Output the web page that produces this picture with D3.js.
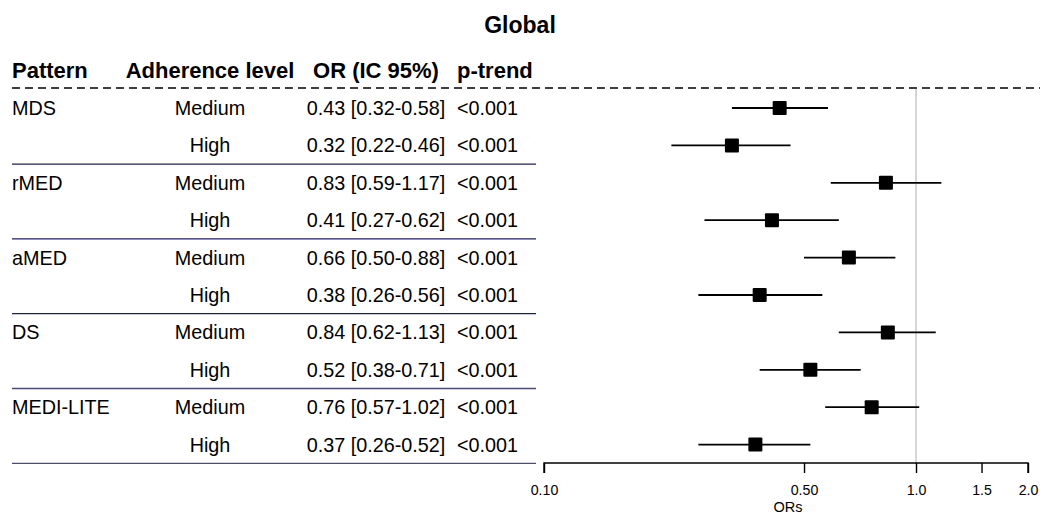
<!DOCTYPE html>
<html>
<head>
<meta charset="utf-8">
<script src="https://cdn.jsdelivr.net/npm/d3@7"></script>
<style>
  html, body { margin: 0; padding: 0; background: #fff; }
  svg { display: block; font-family: "Liberation Sans", Arial, sans-serif; }
</style>
</head>
<body>
<svg id="chart" width="1040" height="514"></svg>
<script>
const patterns = ["MDS", "rMED", "aMED", "DS", "MEDI-LITE"];
const levels = ["Medium", "High"];
const orValues = [0.43, 0.32, 0.83, 0.41, 0.66, 0.38, 0.84, 0.52, 0.76, 0.37];
const ciLower = [0.32, 0.22, 0.59, 0.27, 0.50, 0.26, 0.62, 0.38, 0.57, 0.26];
const ciUpper = [0.58, 0.46, 1.17, 0.62, 0.88, 0.56, 1.13, 0.71, 1.02, 0.52];
const orLabels = ["0.43 [0.32-0.58]", "0.32 [0.22-0.46]", "0.83 [0.59-1.17]", "0.41 [0.27-0.62]",
  "0.66 [0.50-0.88]", "0.38 [0.26-0.56]", "0.84 [0.62-1.13]", "0.52 [0.38-0.71]",
  "0.76 [0.57-1.02]", "0.37 [0.26-0.52]"];
const pTrend = ["<0.001", "<0.001", "<0.001", "<0.001", "<0.001", "<0.001", "<0.001", "<0.001", "<0.001", "<0.001"];
const tickValues = [0.1, 0.5, 1.0, 1.5, 2.0];
const tickLabels = ["0.10", "0.50", "1.0", "1.5", "2.0"];
const headers = ["Pattern", "Adherence level", "OR (IC 95%)", "p-trend"];

const rows = orValues.map((v, i) => ({
  pattern: i % 2 === 0 ? patterns[i / 2] : "",
  level: levels[i % 2],
  or: v, lo: ciLower[i], hi: ciUpper[i],
  label: orLabels[i], p: pTrend[i]
}));

const svg = d3.select("#chart");
const x = d3.scaleLog().domain([0.1, 2]).range([544, 1028]);
const y = d3.scaleLinear().domain([0, rows.length - 1]).range([108, 444.6]);
const rowStep = y(1) - y(0);
const axisY = 463;

// Title
svg.append("text").attr("x", 520).attr("y", 33).attr("text-anchor", "middle")
  .attr("font-weight", "bold").attr("font-size", 23).text("Global");

// Header
const colX = [12, 210, 376, 457];
const colAnchor = ["start", "middle", "middle", "start"];
svg.selectAll("text.hdr").data(headers).join("text").attr("class", "hdr")
  .attr("x", (d, i) => colX[i]).attr("y", 70).attr("dy", "0.35em")
  .attr("text-anchor", (d, i) => colAnchor[i])
  .attr("font-weight", "bold").attr("font-size", 22).text(d => d);

// Dashed line
svg.append("line").attr("x1", 12).attr("x2", 1040).attr("y1", 88).attr("y2", 88)
  .attr("stroke", "#000").attr("stroke-width", 1.5).attr("stroke-dasharray", "8,5");

// Reference line at OR = 1
svg.append("line").attr("x1", x(1)).attr("x2", x(1)).attr("y1", 89).attr("y2", axisY)
  .attr("stroke", "#c8c8c8").attr("stroke-width", 1.5);

// Table text
const g = svg.append("g").attr("font-size", 19.8).attr("fill", "#000");
g.selectAll("text.pat").data(rows).join("text").attr("class", "pat")
  .attr("x", colX[0]).attr("y", (d, i) => y(i)).attr("dy", "0.35em").text(d => d.pattern);
g.selectAll("text.lvl").data(rows).join("text").attr("class", "lvl")
  .attr("x", colX[1]).attr("y", (d, i) => y(i)).attr("dy", "0.35em")
  .attr("text-anchor", "middle").text(d => d.level);
g.selectAll("text.orl").data(rows).join("text").attr("class", "orl")
  .attr("x", colX[2]).attr("y", (d, i) => y(i)).attr("dy", "0.35em")
  .attr("text-anchor", "middle").text(d => d.label);
g.selectAll("text.pt").data(rows).join("text").attr("class", "pt")
  .attr("x", colX[3]).attr("y", (d, i) => y(i)).attr("dy", "0.35em").text(d => d.p);

// Separators
svg.selectAll("line.sep").data(patterns).join("line").attr("class", "sep")
  .attr("x1", 12).attr("x2", 536)
  .attr("y1", (d, k) => y(2 * k + 1) + rowStep / 2)
  .attr("y2", (d, k) => y(2 * k + 1) + rowStep / 2)
  .attr("stroke", (d, k) => k < 3 ? "#1e1e66" : "#4a4a7a").attr("stroke-width", 1.3);

// CIs
svg.selectAll("line.ci").data(rows).join("line").attr("class", "ci")
  .attr("x1", d => x(d.lo)).attr("x2", d => x(d.hi))
  .attr("y1", (d, i) => y(i)).attr("y2", (d, i) => y(i))
  .attr("stroke", "#000").attr("stroke-width", 1.8);
const box = 14;
svg.selectAll("rect.pt").data(rows).join("rect").attr("class", "pt")
  .attr("x", d => x(d.or) - box / 2).attr("y", (d, i) => y(i) - box / 2)
  .attr("width", box).attr("height", box).attr("rx", 1).attr("fill", "#000");

// Axis
const axis = d3.axisBottom(x).tickValues(tickValues)
  .tickFormat((d, i) => tickLabels[i]).tickSize(10).tickPadding(12);
const ax = svg.append("g").attr("transform", `translate(0,${axisY})`).call(axis);
ax.select(".domain").attr("stroke", "#000").attr("stroke-width", 1.4).attr("d", `M${x(0.1)},10V0H${x(2)}V10`);
ax.selectAll(".tick line").attr("stroke", "#000").attr("stroke-width", 1.4);
ax.selectAll(".tick text").attr("font-size", 14.2).attr("fill", "#000")
  .attr("font-family", "Liberation Sans, Arial, sans-serif");

svg.append("text").attr("x", x(0.5) - 16).attr("y", 512).attr("text-anchor", "middle")
  .attr("font-size", 14.5).text("ORs");
</script>
</body>
</html>
